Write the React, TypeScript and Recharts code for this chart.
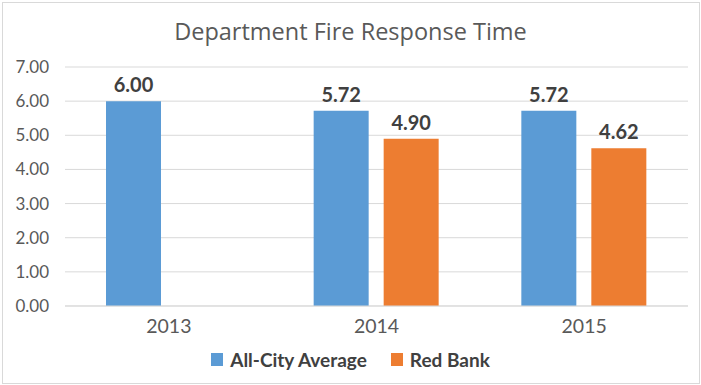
import { BarChart, Bar, XAxis, YAxis, CartesianGrid, Legend, LabelList } from 'recharts'

const years = ['2013', '2014', '2015']
const allCityAverage = [6.0, 5.72, 5.72]
const redBank: (number | null)[] = [null, 4.9, 4.62]
const yTicks = [0, 1, 2, 3, 4, 5, 6, 7]

const BLUE = '#5b9bd5'
const ORANGE = '#ed7d31'
const FONT = 'Lato, "Open Sans", sans-serif'

const data = years.map((year, i) => ({
  year,
  allCity: allCityAverage[i],
  redBank: redBank[i],
}))

function LegendContent() {
  const items = [
    { name: 'All-City Average', color: BLUE },
    { name: 'Red Bank', color: ORANGE },
  ]
  return (
    <div style={{ display: 'flex', justifyContent: 'center', gap: 24, fontFamily: FONT, fontWeight: 700, fontSize: 19, color: '#404040' }}>
      {items.map((it) => (
        <div key={it.name} style={{ display: 'flex', alignItems: 'center', gap: 7 }}>
          <span style={{ width: 12, height: 13, background: it.color, display: 'inline-block' }} />
          <span>{it.name}</span>
        </div>
      ))}
    </div>
  )
}

export default function App() {
  const fmt = (v: unknown) => (typeof v === 'number' ? v.toFixed(2) : '')
  return (
    <div style={{ position: 'absolute', left: 0, top: 0, width: 701, height: 385, background: '#fff' }}>
      <div style={{ position: 'absolute', left: 2, top: 2, width: 696, height: 380, border: '1px solid #d9d9d9' }} />
      <div style={{ position: 'absolute', left: 0, top: 15, width: 701, textAlign: 'center', fontFamily: '"Open Sans", sans-serif', fontSize: 23.5, color: '#595959' }}>
        Department Fire Response Time
      </div>
      <BarChart
        width={701}
        height={385}
        data={data}
        margin={{ top: 67, right: 13, left: 0, bottom: 49 }}
        barSize={55}
        barGap={15}
        style={{ position: 'absolute', left: 0, top: 0 }}
      >
        <CartesianGrid vertical={false} stroke="#d9d9d9" />
        <XAxis
          dataKey="year"
          height={30}
          tickLine={false}
          axisLine={{ stroke: '#d9d9d9' }}
          tick={{ fontFamily: FONT, fontSize: 19.5, fill: '#595959' }}
          tickMargin={7}
        />
        <YAxis
          width={65}
          domain={[0, 7]}
          ticks={yTicks}
          tickFormatter={(v: number) => v.toFixed(2)}
          tickLine={false}
          axisLine={false}
          tickMargin={10}
          tick={{ fontFamily: FONT, fontSize: 17, fill: '#595959' }}
        />
        <Legend
          layout="horizontal"
          verticalAlign="middle"
          align="center"
          content={<LegendContent />}
          wrapperStyle={{ top: 348, left: 0, width: 701 }}
        />
        <Bar dataKey="allCity" name="All-City Average" fill={BLUE} isAnimationActive={false}>
          <LabelList dataKey="allCity" position="top" offset={9} formatter={fmt} style={{ fontFamily: FONT, fontWeight: 700, fontSize: 20, fill: '#404040' }} />
        </Bar>
        <Bar dataKey="redBank" name="Red Bank" fill={ORANGE} isAnimationActive={false}>
          <LabelList dataKey="redBank" position="top" offset={9} formatter={fmt} style={{ fontFamily: FONT, fontWeight: 700, fontSize: 20, fill: '#404040' }} />
        </Bar>
      </BarChart>
    </div>
  )
}
